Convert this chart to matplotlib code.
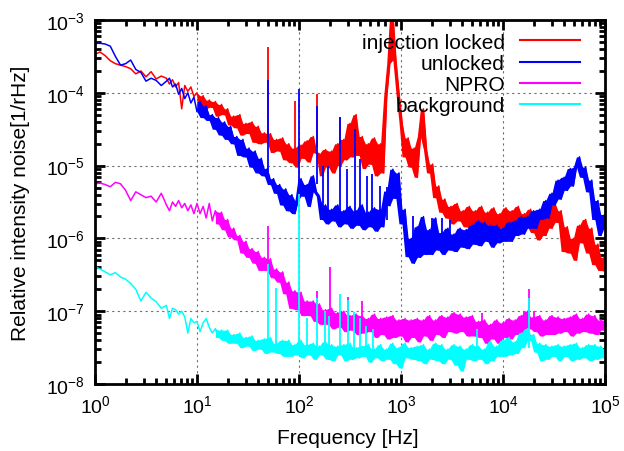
import matplotlib
matplotlib.use("Agg")
import matplotlib.pyplot as plt
import numpy as np
from matplotlib.ticker import LogLocator, NullFormatter

plt.rcParams['font.family'] = ['Liberation Sans', 'DejaVu Sans']
plt.rcParams['mathtext.fontset'] = 'custom'
plt.rcParams['mathtext.rm'] = 'Liberation Sans'
plt.rcParams['mathtext.it'] = 'Liberation Sans:italic'
plt.rcParams['mathtext.bf'] = 'Liberation Sans:bold'

# ---- data (frequencies as log10(Hz), RIN as log10(1/rtHz)) ----
log_freq = [0.00, 0.05, 0.10, 0.15, 0.20, 0.25, 0.30, 0.35, 0.40, 0.45, 0.50, 0.55, 0.60, 0.65,
            0.70, 0.73, 0.76, 0.79, 0.82, 0.85, 0.88, 0.91, 0.94, 0.97,
            1.00, 1.03, 1.06, 1.09, 1.12, 1.15, 1.18, 1.21, 1.24, 1.27,
            1.30, 1.33, 1.36, 1.39, 1.42, 1.45, 1.48, 1.51, 1.54, 1.57,
            1.60, 1.63, 1.66, 1.69, 1.72, 1.75, 1.78, 1.81, 1.84, 1.87,
            1.90, 1.93, 1.96, 1.99, 2.02, 2.05, 2.08, 2.11, 2.14, 2.17,
            2.20, 2.23, 2.26, 2.29, 2.32, 2.35, 2.38, 2.41, 2.44, 2.47,
            2.50, 2.53, 2.56, 2.59, 2.62, 2.65, 2.68, 2.71, 2.74, 2.77,
            2.80, 2.83, 2.86, 2.89, 2.92, 2.95, 2.98, 3.01, 3.04, 3.07,
            3.10, 3.13, 3.16, 3.19, 3.22, 3.25, 3.28, 3.31, 3.34, 3.37,
            3.40, 3.43, 3.46, 3.49, 3.52, 3.55, 3.58, 3.61, 3.64, 3.67,
            3.70, 3.73, 3.76, 3.79, 3.82, 3.85, 3.88, 3.91, 3.94, 3.97,
            4.00, 4.03, 4.06, 4.09, 4.12, 4.15, 4.18, 4.21, 4.24, 4.27,
            4.30, 4.33, 4.36, 4.39, 4.42, 4.45, 4.48, 4.51, 4.54, 4.57,
            4.60, 4.63, 4.66, 4.69, 4.72, 4.75, 4.78, 4.81, 4.84, 4.87,
            4.90, 4.93, 4.96, 4.99, 5.00]

red_log = [-3.47, -3.44, -3.49, -3.56, -3.60, -3.62, -3.64, -3.67, -3.74, -3.70, -3.78, -3.71, -3.81, -3.77,
           -3.80, -3.88, -3.82, -3.92, -3.86, -4.22, -3.90, -3.98, -3.92, -4.05,
           -4.00, -4.16, -4.04, -4.22, -4.10, -4.20, -4.12, -4.32, -4.16, -4.30,
           -4.22, -4.44, -4.32, -4.48, -4.30, -4.58, -4.42, -4.56, -4.40, -4.68,
           -4.46, -4.70, -4.55, -4.68, -4.56, -4.82, -4.64, -4.80, -4.62, -4.92,
           -4.70, -4.96, -4.76, -5.02, -4.72, -4.90, -4.66, -4.95, -4.60, -4.82,
           -4.84, -5.14, -4.78, -5.02, -4.80, -5.10, -4.70, -5.00, -4.64, -4.92,
           -4.42, -4.88, -4.30, -4.86, -4.60, -5.04, -4.70, -4.98, -4.62, -5.14,
           -4.70, -5.10, -4.05, -3.60, -2.90, -3.55, -4.00, -4.40, -4.88, -4.62,
           -5.02, -4.76, -5.16, -4.60, -4.22, -4.78, -5.10, -4.98, -5.44, -5.28,
           -5.64, -5.46, -5.72, -5.56, -5.80, -5.52, -5.76, -5.62, -5.84, -5.56,
           -5.86, -5.62, -5.80, -5.56, -5.90, -5.64, -5.84, -5.58, -5.88, -5.66,
           -5.86, -5.58, -5.90, -5.62, -5.82, -5.56, -5.90, -5.66, -5.84, -5.60,
           -5.92, -5.72, -6.02, -5.74, -5.96, -5.60, -5.86, -5.52, -5.78, -5.62,
           -6.18, -5.84, -6.20, -6.00, -6.30, -5.82, -6.06, -5.74, -6.20, -5.86,
           -6.36, -6.08, -6.44, -6.26, -6.45]

blue_log = [-3.32, -3.32, -3.33, -3.36, -3.50, -3.62, -3.60, -3.55, -3.68, -3.72, -3.84, -3.80, -3.83, -3.90,
            -3.84, -3.80, -3.92, -3.88, -4.02, -3.94, -4.08, -4.00, -4.14, -4.06,
            -4.26, -4.12, -4.34, -4.18, -4.38, -4.30, -4.50, -4.34, -4.58, -4.40,
            -4.64, -4.46, -4.70, -4.60, -4.86, -4.64, -4.88, -4.76, -5.02, -4.80,
            -5.10, -4.90, -5.14, -5.04, -5.26, -5.18, -5.38, -5.26, -5.54, -5.32,
            -5.62, -5.40, -5.66, -5.48, -5.18, -5.42, -5.26, -5.56, -5.14, -5.36,
            -5.42, -5.74, -5.54, -5.80, -5.60, -5.76, -5.54, -5.84, -5.62, -5.80,
            -5.56, -5.86, -5.62, -5.82, -5.54, -5.88, -5.64, -5.84, -5.58, -5.90,
            -5.60, -5.84, -5.35, -5.55, -5.05, -5.45, -5.10, -5.80, -5.60, -6.25,
            -6.00, -6.34, -5.84, -6.26, -5.70, -6.22, -5.88, -6.22, -5.72, -6.16,
            -5.92, -6.22, -5.86, -6.16, -5.94, -6.18, -5.86, -6.12, -5.88, -6.14,
            -5.82, -6.08, -5.76, -6.10, -5.78, -6.04, -5.82, -6.12, -5.82, -6.06,
            -5.86, -6.04, -5.78, -6.04, -5.76, -5.96, -5.70, -5.94, -5.70, -5.86,
            -5.62, -5.86, -5.60, -5.74, -5.48, -5.72, -5.38, -5.54, -5.20, -5.46,
            -5.16, -5.34, -5.04, -5.28, -5.02, -4.88, -5.16, -5.02, -5.36, -5.20,
            -5.74, -5.48, -5.96, -5.68, -5.86]

npro_log = [-5.25, -5.24, -5.26, -5.29, -5.23, -5.25, -5.34, -5.48, -5.36, -5.40, -5.44, -5.42, -5.50, -5.38,
            -5.54, -5.62, -5.50, -5.56, -5.48, -5.58, -5.52, -5.62, -5.54, -5.66,
            -5.52, -5.66, -5.56, -5.72, -5.52, -5.76, -5.62, -5.80, -5.64, -5.88,
            -5.74, -5.98, -5.86, -6.02, -5.96, -6.20, -6.04, -6.26, -6.14, -6.34,
            -6.18, -6.44, -6.26, -6.44, -6.28, -6.54, -6.42, -6.60, -6.46, -6.76,
            -6.60, -6.96, -6.72, -6.98, -6.74, -7.06, -6.86, -7.06, -6.86, -7.14,
            -6.90, -7.18, -6.98, -7.18, -6.96, -7.24, -7.02, -7.22, -7.00, -7.28,
            -7.06, -7.26, -7.04, -7.32, -7.06, -7.30, -7.10, -7.28, -7.04, -7.36,
            -7.10, -7.32, -7.08, -7.38, -7.06, -7.36, -7.12, -7.34, -7.10, -7.42,
            -7.12, -7.36, -7.10, -7.42, -7.12, -7.34, -7.06, -7.40, -7.12, -7.32,
            -7.06, -7.36, -7.08, -7.28, -7.02, -7.30, -7.04, -7.28, -7.08, -7.34,
            -7.06, -7.34, -7.14, -7.36, -7.12, -7.44, -7.18, -7.38, -7.12, -7.44,
            -7.16, -7.36, -7.10, -7.38, -7.12, -7.32, -7.06, -7.32, -7.00, -7.24,
            -7.08, -7.28, -7.06, -7.34, -7.12, -7.32, -7.06, -7.32, -7.08, -7.30,
            -7.10, -7.28, -7.08, -7.34, -7.04, -7.30, -7.10, -7.28, -7.04, -7.30,
            -7.06, -7.32, -7.12, -7.26, -7.12]

bg_log = [-6.39, -6.42, -6.46, -6.50, -6.47, -6.53, -6.56, -6.62, -6.70, -6.86, -6.74, -6.82, -6.87, -6.96,
          -6.92, -7.10, -6.96, -6.98, -7.04, -7.00, -7.08, -7.30, -7.10, -7.16,
          -7.14, -7.28, -7.16, -7.10, -7.22, -7.30, -7.24, -7.36, -7.26, -7.40,
          -7.26, -7.44, -7.32, -7.44, -7.30, -7.50, -7.36, -7.48, -7.34, -7.54,
          -7.40, -7.52, -7.38, -7.58, -7.36, -7.56, -7.44, -7.58, -7.40, -7.62,
          -7.40, -7.62, -7.46, -7.60, -7.40, -7.64, -7.46, -7.60, -7.44, -7.66,
          -7.48, -7.60, -7.42, -7.66, -7.46, -7.68, -7.48, -7.60, -7.46, -7.68,
          -7.44, -7.66, -7.50, -7.64, -7.48, -7.62, -7.46, -7.70, -7.52, -7.64,
          -7.46, -7.68, -7.52, -7.66, -7.44, -7.72, -7.50, -7.78, -7.44, -7.64,
          -7.50, -7.66, -7.48, -7.68, -7.46, -7.72, -7.52, -7.66, -7.44, -7.68,
          -7.46, -7.72, -7.52, -7.66, -7.46, -7.74, -7.48, -7.82, -7.52, -7.66,
          -7.46, -7.68, -7.48, -7.66, -7.52, -7.72, -7.42, -7.68, -7.48, -7.62,
          -7.40, -7.62, -7.36, -7.60, -7.42, -7.58, -7.30, -7.50, -7.24, -7.40,
          -7.32, -7.56, -7.44, -7.68, -7.46, -7.66, -7.48, -7.62, -7.46, -7.68,
          -7.48, -7.62, -7.46, -7.68, -7.44, -7.66, -7.50, -7.64, -7.46, -7.68,
          -7.46, -7.66, -7.48, -7.64, -7.52]

# narrow line peaks: frequency [Hz], top and foot (log10 RIN)
red_spike_hz = [50, 91, 150, 250]
red_spike_top = [-3.37, -4.11, -4.02, -4.33]
red_spike_foot = [-4.70, -4.85, -4.75, -4.90]

blue_spike_hz = [50, 100, 150, 172, 192, 252, 295, 354, 398, 465, 520, 620, 727,
                 1300, 1600, 2000, 2500, 3000]
blue_spike_top = [-3.82, -3.95, -4.18, -5.00, -5.00, -4.33, -5.05, -4.50, -4.91, -5.14, -5.12, -5.28, -5.30,
                  -5.69, -5.70, -5.72, -5.72, -5.75]
blue_spike_foot = [-5.10, -5.45, -5.25, -5.70, -5.70, -5.70, -5.70, -5.70, -5.70, -5.70, -5.70, -5.75, -5.75,
                   -6.10, -6.10, -6.10, -6.10, -6.10]

npro_spike_hz = [50, 150, 200, 300, 410, 6200, 16000, 18000, 20000]
npro_spike_top = [-5.83, -6.72, -6.39, -6.81, -6.86, -7.03, -7.00, -6.70, -7.00]
npro_spike_foot = [-6.30, -7.00, -7.05, -7.10, -7.10, -7.20, -7.20, -7.20, -7.20]

bg_spike_hz = [50, 60, 100, 120, 150, 180, 195, 250, 300, 350, 400, 450, 530, 5600, 18000]
bg_spike_top = [-6.35, -6.68, -5.39, -7.10, -6.82, -7.00, -7.06, -6.77, -6.85, -7.01, -7.10, -7.20, -7.25,
                -7.25, -6.82]
bg_spike_foot = [-7.50, -7.50, -7.55, -7.55, -7.55, -7.55, -7.55, -7.55, -7.55, -7.55, -7.55, -7.55, -7.55,
                 -7.60, -7.50]

# index in log_freq from which each trace is a dense noise band
band_start = [24, 24, 30, 30]

series = [
    ("injection locked", "#ff0000", red_log, red_spike_hz, red_spike_top, red_spike_foot),
    ("unlocked", "#0000ff", blue_log, blue_spike_hz, blue_spike_top, blue_spike_foot),
    ("NPRO", "#ff00ff", npro_log, npro_spike_hz, npro_spike_top, npro_spike_foot),
    ("background", "#00ffff", bg_log, bg_spike_hz, bg_spike_top, bg_spike_foot),
]

fig = plt.figure(figsize=(6.24, 4.52), dpi=100)
ax = fig.add_axes([95/624, 1 - 385/452, 510/624, 364/452])

freq = np.power(10.0, np.array(log_freq))
for i, (label, color, vals, shz, stop, sfoot) in enumerate(series):
    v = np.array(vals)
    z = 3 + i
    ax.plot(freq, np.power(10.0, v), color=color, lw=1.1, label=label, zorder=z)
    s0 = band_start[i]
    a = v[s0:-1]
    b = v[s0 + 1:]
    ax.fill_between(freq[s0:-1], np.power(10.0, np.minimum(a, b)), np.power(10.0, np.maximum(a, b)),
                    color=color, lw=0, zorder=z)
    ax.vlines(shz, np.power(10.0, np.array(sfoot)), np.power(10.0, np.array(stop)),
              color=color, lw=1.3, zorder=z)

ax.set_xscale('log')
ax.set_yscale('log')
ax.set_xlim(1, 1e5)
ax.set_ylim(1e-8, 1e-3)

ax.xaxis.set_major_locator(LogLocator(base=10, numticks=10))
ax.yaxis.set_major_locator(LogLocator(base=10, numticks=10))
ax.xaxis.set_minor_locator(LogLocator(base=10, subs=np.arange(2, 10), numticks=20))
ax.yaxis.set_minor_locator(LogLocator(base=10, subs=np.arange(2, 10), numticks=20))
ax.xaxis.set_minor_formatter(NullFormatter())
ax.yaxis.set_minor_formatter(NullFormatter())

ax.tick_params(which='both', direction='in', top=True, right=True, colors='black', width=2)
ax.tick_params(which='major', length=7, labelsize=14, pad=7)
ax.tick_params(which='minor', length=4)
for s in ax.spines.values():
    s.set_linewidth(2)
    s.set_zorder(10)

ax.grid(True, which='major', color='#707070', lw=0.8, ls=(0, (2, 3)))
ax.set_axisbelow(True)

ax.set_xlabel("Frequency [Hz]", fontsize=15)
ax.set_ylabel("Relative intensity noise[1/rHz]", fontsize=15)
ax.xaxis.set_label_coords(0.495, -0.122)
ax.yaxis.set_label_coords(-0.128, 0.5)

leg = ax.legend(loc='upper right', bbox_to_anchor=(0.951, 0.965), frameon=False,
                markerfirst=False, fontsize=15, handlelength=2.9, handletextpad=0.72,
                labelspacing=0.1, borderaxespad=0.0, borderpad=0.0)
for h in leg.get_lines():
    h.set_linewidth(1.5)

fig.savefig("out.png", dpi=100)
